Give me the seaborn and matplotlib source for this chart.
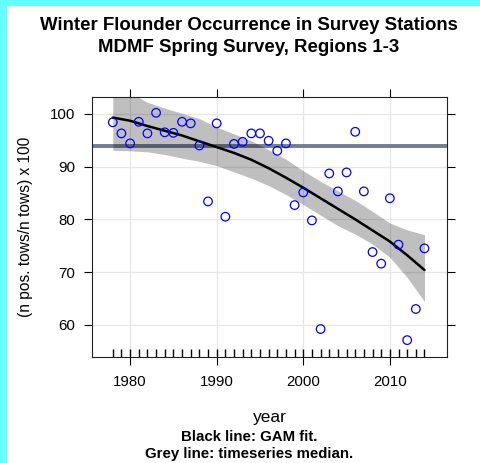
import numpy as np
import pandas as pd
import matplotlib
matplotlib.use("Agg")
import matplotlib.pyplot as plt
import seaborn as sns
from matplotlib.patches import Rectangle

# ---- data ----
years = [1978, 1979, 1980, 1981, 1982, 1983, 1984, 1985, 1986, 1987, 1988, 1989,
         1990, 1991, 1992, 1993, 1994, 1995, 1996, 1997, 1998, 1999, 2000, 2001,
         2002, 2003, 2004, 2005, 2006, 2007, 2008, 2009, 2010, 2011, 2012, 2013, 2014]
occurrence = [98.4, 96.3, 94.4, 98.5, 96.3, 100.2, 96.5, 96.4, 98.5, 98.2, 94.0, 83.4,
              98.2, 80.5, 94.3, 94.7, 96.3, 96.3, 94.9, 93.0, 94.4, 82.7, 85.1, 79.8,
              59.2, 88.7, 85.3, 88.9, 96.6, 85.3, 73.8, 71.6, 84.0, 75.2, 57.1, 63.0, 74.5]

fit_years = [1978, 1980, 1982, 1984, 1986, 1988, 1990, 1992, 1994, 1996,
             1998, 2000, 2002, 2004, 2006, 2008, 2010, 2012, 2014]
gam_fit = [99.3, 98.7, 97.7, 96.8, 95.9, 94.8, 93.7, 92.6, 91.3, 89.7,
           87.9, 86.0, 84.0, 82.0, 80.0, 77.9, 75.8, 73.2, 70.4]
gam_upper = [107.0, 104.0, 102.2, 101.1, 100.1, 99.1, 97.5, 96.2, 94.9, 93.2,
             91.4, 89.2, 87.2, 85.4, 83.6, 81.5, 79.3, 78.0, 77.1]
gam_lower = [93.1, 93.0, 92.8, 92.3, 91.6, 91.0, 90.2, 89.0, 87.8, 86.4,
             84.7, 82.8, 80.8, 78.8, 77.2, 75.3, 72.8, 69.0, 64.4]

x_ticks = [1980, 1990, 2000, 2010]
y_ticks = [60, 70, 80, 90, 100]

title_lines = ["Winter Flounder Occurrence in Survey Stations",
               "MDMF Spring Survey, Regions 1-3"]
footer_lines = ["Black line: GAM fit.", "Grey line: timeseries median."]

df = pd.DataFrame({"year": years, "occ": occurrence})
fit_df = pd.DataFrame({"year": fit_years, "fit": gam_fit,
                       "lo": gam_lower, "hi": gam_upper})
median_val = float(np.median(occurrence))

# ---- style ----
sns.set_style("white")
plt.rcParams["font.family"] = ["Liberation Sans", "DejaVu Sans"]
plt.rcParams["text.color"] = "black"
plt.rcParams["axes.labelcolor"] = "black"
plt.rcParams["xtick.color"] = "black"
plt.rcParams["ytick.color"] = "black"

fig = plt.figure(figsize=(4.8, 4.63), dpi=100)
fig.patch.set_facecolor("white")
ax = fig.add_axes([92 / 480, 1 - 357 / 463, 355 / 480, 260 / 463])

# cyan border strips (top and left)
cyan = "#66ffff"
fig.patches.append(Rectangle((0, 1 - 6 / 463), 1, 6 / 463, transform=fig.transFigure,
                             facecolor=cyan, edgecolor="none", zorder=0))
fig.patches.append(Rectangle((0, 0), 7 / 480, 1, transform=fig.transFigure,
                             facecolor=cyan, edgecolor="none", zorder=0))

# grid
for xt in x_ticks:
    ax.axvline(xt, color="#e6e6e6", lw=0.9, zorder=0.5)
for yt in y_ticks:
    ax.axhline(yt, color="#e6e6e6", lw=0.9, zorder=0.5)

# median line
ax.axhline(median_val, color="#708090", lw=2.8, zorder=1)

# confidence band (translucent black)
ax.fill_between(fit_df["year"], fit_df["lo"], fit_df["hi"],
                color="black", alpha=0.25, lw=0, zorder=2)

# GAM fit
sns.lineplot(data=fit_df, x="year", y="fit", color="black", lw=1.8,
             ax=ax, zorder=3)

# points
sns.scatterplot(data=df, x="year", y="occ", marker="o", s=38,
                facecolors="none", edgecolor="#0000ff", linewidth=0.9,
                ax=ax, zorder=4)

# rug
sns.rugplot(data=df, x="year", height=0.032, color="black", lw=0.9, ax=ax,
            zorder=5)

ax.set_xlim(1975.6, 2016.6)
ax.set_ylim(53.9, 103.2)
ax.set_xticks(x_ticks)
ax.set_yticks(y_ticks)
ax.set_xticklabels([str(t) for t in x_ticks])
ax.set_yticklabels([str(t) for t in y_ticks])
ax.tick_params(axis="both", which="both", direction="out", length=6, width=0.8,
               top=True, right=True, bottom=True, left=True,
               labeltop=False, labelright=False, labelsize=10.8,
               colors="black", pad=7)
ax.tick_params(axis="y", pad=6)
for s in ax.spines.values():
    s.set_color("#222222")
    s.set_linewidth(0.8)

ax.set_xlabel("year", fontsize=12.5, color="black")
ax.set_ylabel("(n pos. tows/n tows) x 100", fontsize=11.2, color="black")
ax.xaxis.set_label_coords(0.5, -0.205)
ax.yaxis.set_label_coords(-0.165, 0.5)

fig.text(249 / 480, 1 - 25 / 463, title_lines[0], ha="center", va="center",
         fontsize=13.4, fontweight="bold", color="black")
fig.text(249 / 480, 1 - 48 / 463, title_lines[1], ha="center", va="center",
         fontsize=13.4, fontweight="bold", color="black")
fig.text(249 / 480, 1 - 437 / 463, footer_lines[0], ha="center", va="center",
         fontsize=10.8, fontweight="bold", color="black")
fig.text(249 / 480, 1 - 454 / 463, footer_lines[1], ha="center", va="center",
         fontsize=10.8, fontweight="bold", color="black")

fig.savefig("out.png", dpi=100)
